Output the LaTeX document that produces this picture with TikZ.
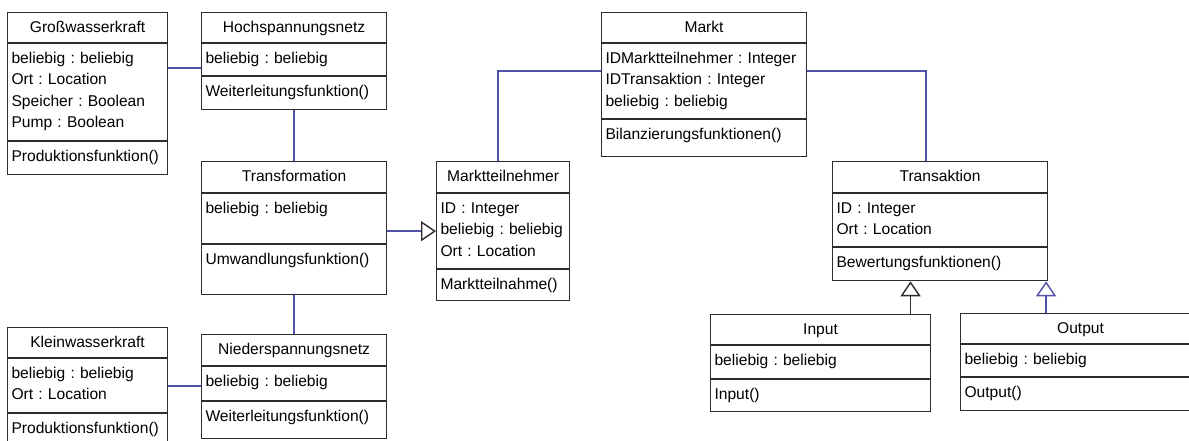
\documentclass[tikz,border=0pt]{standalone}
\usepackage{fontspec}
\setmainfont{Liberation Sans}
\usepackage{tikz}
\usetikzlibrary{arrows.meta}
\definecolor{linienblau}{RGB}{82,82,168}
\definecolor{rahmen}{RGB}{45,45,45}
\frenchspacing

\begin{document}
\begin{tikzpicture}[x=1pt,y=-1pt,
        kopf/.style={draw=rahmen,line width=1.1pt,anchor=north west,inner xsep=4pt,inner ysep=0pt,
            align=center,text height=20pt,font=\fontsize{15.6pt}{21.2pt}\selectfont},
        fach/.style={kopf,align=left},
        verb/.style={draw=linienblau,line width=1.4pt},
        erbt/.style={-{Triangle[open,length=15pt,width=20pt]}}]
        \useasboundingbox (0,0) rectangle (1189,441);

        % Grosswasserkraft
        \node [kopf,text width=152pt,text depth=10pt] (Gross) at (7,12) {Großwasserkraft};
        \node [fach,text width=152pt,text depth=77pt] (GrossAttr) at (Gross.south west) {
            beliebig : beliebig\\ Ort : Location\\ Speicher : Boolean\\ Pump : Boolean};
        \node [fach,text width=152pt,text depth=13pt] (GrossOp) at (GrossAttr.south west) {Produktionsfunktion()};

        % Hochspannungsnetz
        \node [kopf,text width=177pt,text depth=10pt] (Hoch) at (201,12) {Hochspannungsnetz};
        \node [fach,text width=177pt,text depth=12pt] (HochAttr) at (Hoch.south west) {beliebig : beliebig};
        \node [fach,text width=177pt,text depth=13pt] (HochOp) at (HochAttr.south west) {Weiterleitungsfunktion()};

        % Transformation
        \node [kopf,text width=177pt,text depth=11pt] (Trafo) at (201,161) {Transformation};
        \node [fach,text width=177pt,text depth=30pt] (TrafoAttr) at (Trafo.south west) {beliebig : beliebig};
        \node [fach,text width=177pt,text depth=30pt] (TrafoOp) at (TrafoAttr.south west) {Umwandlungsfunktion()};

        % Niederspannungsnetz
        \node [kopf,text width=177pt,text depth=11pt] (Nieder) at (201,334) {Niederspannungsnetz};
        \node [fach,text width=177pt,text depth=14pt] (NiederAttr) at (Nieder.south west) {beliebig : beliebig};
        \node [fach,text width=177pt,text depth=17pt] (NiederOp) at (NiederAttr.south west) {Weiterleitungsfunktion()};

        % Kleinwasserkraft
        \node [kopf,text width=152pt,text depth=10pt] (Klein) at (7,327) {Kleinwasserkraft};
        \node [fach,text width=152pt,text depth=34pt] (KleinAttr) at (Klein.south west) {
            beliebig : beliebig\\ Ort : Location};
        \node [fach,text width=152pt,text depth=13pt] (KleinOp) at (KleinAttr.south west) {Produktionsfunktion()};

        % Marktteilnehmer
        \node [kopf,text width=125pt,text depth=11pt] (Teilnehmer) at (436,161) {Marktteilnehmer};
        \node [fach,text width=125pt,text depth=55pt] (TeilnehmerAttr) at (Teilnehmer.south west) {
            ID : Integer\\ beliebig : beliebig\\ Ort : Location};
        \node [fach,text width=125pt,text depth=11pt] (TeilnehmerOp) at (TeilnehmerAttr.south west) {Marktteilnahme()};

        % Markt
        \node [kopf,text width=197pt,text depth=10pt] (Markt) at (601,12) {Markt};
        \node [fach,text width=197pt,text depth=55pt] (MarktAttr) at (Markt.south west) {
            IDMarktteilnehmer : Integer\\ IDTransaktion : Integer\\ beliebig : beliebig};
        \node [fach,text width=197pt,text depth=17pt] (MarktOp) at (MarktAttr.south west) {Bilanzierungsfunktionen()};

        % Transaktion
        \node [kopf,text width=207pt,text depth=11pt] (Transaktion) at (832,161) {Transaktion};
        \node [fach,text width=207pt,text depth=33pt] (TransaktionAttr) at (Transaktion.south west) {
            ID : Integer\\ Ort : Location};
        \node [fach,text width=207pt,text depth=13pt] (TransaktionOp) at (TransaktionAttr.south west) {Bewertungsfunktionen()};

        % Input
        \node [kopf,text width=212pt,text depth=10pt] (Input) at (710,314) {Input};
        \node [fach,text width=212pt,text depth=13pt] (InputAttr) at (Input.south west) {beliebig : beliebig};
        \node [fach,text width=212pt,text depth=12pt] (InputOp) at (InputAttr.south west) {Input()};

        % Output
        \node [kopf,text width=232pt,text depth=10pt] (Output) at (960,313) {Output};
        \node [fach,text width=232pt,text depth=12pt] (OutputAttr) at (Output.south west) {beliebig : beliebig};
        \node [fach,text width=232pt,text depth=13pt] (OutputOp) at (OutputAttr.south west) {Output()};

        % Verbindungen
        \coordinate (HochLink) at ([yshift=-8.5pt]HochAttr.west);
        \coordinate (KleinLink) at ([yshift=-0.5pt]KleinAttr.east);
        \coordinate (MarktLinks) at ([yshift=10pt]MarktAttr.west);
        \coordinate (MarktRechts) at ([yshift=10pt]MarktAttr.east);
        \coordinate (InputFuss) at ([xshift=90pt]Input.north);
        \coordinate (OutputSpitze) at ([xshift=-2pt]TransaktionOp.south east);

        \draw [verb] (GrossAttr.east |- HochLink) -- (HochLink);
        \draw [verb] (HochOp.south) -- (Trafo.north);
        \draw [verb] (TrafoOp.south) -- (Nieder.north);
        \draw [verb] (KleinLink) -- (KleinLink -| NiederAttr.west);
        \draw [verb,-{Triangle[open,length=15pt,width=20pt,color=rahmen]}] (TrafoAttr.east |- TeilnehmerAttr.west) -- (TeilnehmerAttr.west);
        \draw [verb] ([xshift=-5pt]Teilnehmer.north) |- (MarktLinks);
        \draw [verb] (MarktRechts) -| ([xshift=-14pt]Transaktion.north);
        \draw [erbt,draw=rahmen,line width=1.4pt] (InputFuss) -- (InputFuss |- TransaktionOp.south);
        \draw [verb,erbt] (Output.north -| OutputSpitze) -- (OutputSpitze);
    \end{tikzpicture}
\end{document}
